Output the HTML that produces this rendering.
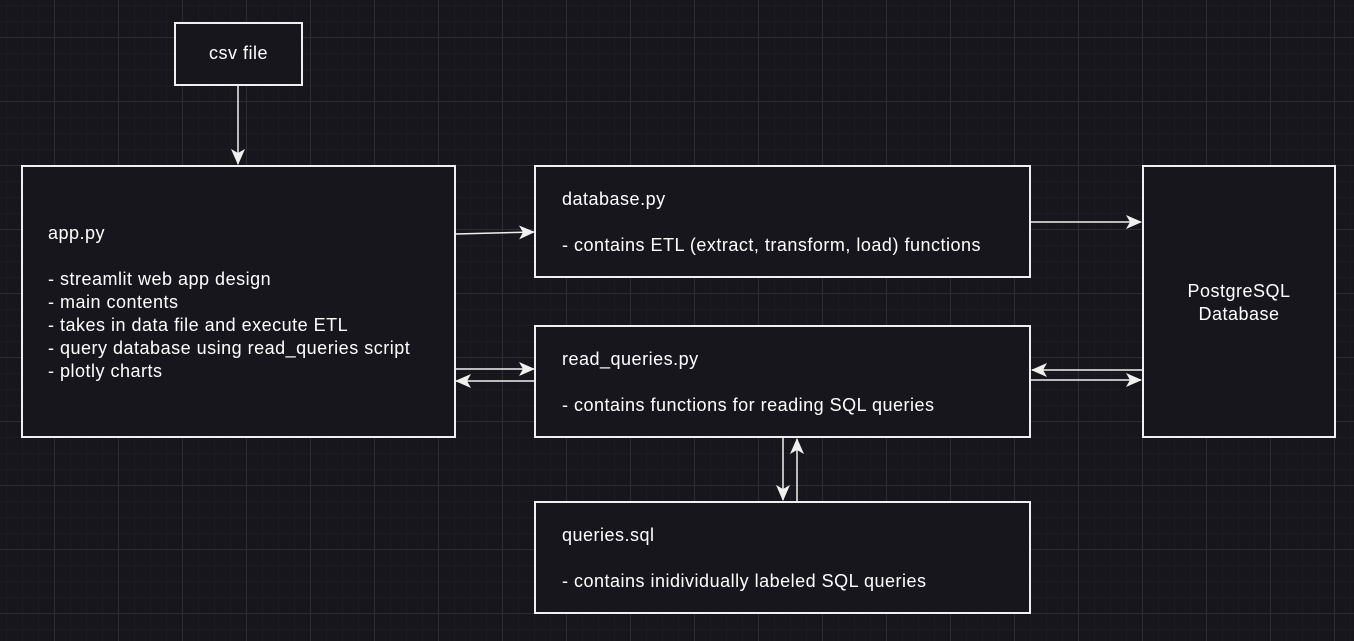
<!DOCTYPE html>
<html><head><style>
body{margin:0;width:1354px;height:641px;overflow:hidden;background:#18161d;
background-image:
linear-gradient(#2e2c33 1px,transparent 1px),
linear-gradient(90deg,#2e2c33 1px,transparent 1px),
linear-gradient(#1e1c23 1px,transparent 1px),
linear-gradient(90deg,#1e1c23 1px,transparent 1px);
background-size:64px 64px,64px 64px,16px 16px,16px 16px;
background-position:0 37px,54px 0,0 5px,6px 0;
font-family:"Liberation Sans",Arial,sans-serif;color:#fff;font-size:18px;letter-spacing:0.5px}
.b{position:absolute;border:2px solid #f0f0f0;background:#18161d;box-sizing:border-box}
.t{position:absolute;white-space:pre;line-height:23px}
svg{position:absolute;left:0;top:0}
</style></head><body>
<div class="b" style="left:174px;top:22px;width:129px;height:64px"></div>
<div class="b" style="left:21px;top:165px;width:435px;height:273px"></div>
<div class="b" style="left:534px;top:165px;width:497px;height:113px"></div>
<div class="b" style="left:534px;top:325px;width:497px;height:113px"></div>
<div class="b" style="left:534px;top:501px;width:497px;height:113px"></div>
<div class="b" style="left:1142px;top:165px;width:194px;height:273px"></div>
<div class="t" style="left:174px;top:42px;width:129px;text-align:center">csv file</div>
<div class="t" style="left:48px;top:222px">app.py

- streamlit web app design
- main contents
- takes in data file and execute ETL
- query database using read_queries script
- plotly charts</div>
<div class="t" style="left:562px;top:188px">database.py

- contains ETL (extract, transform, load) functions</div>
<div class="t" style="left:562px;top:348px">read_queries.py

- contains functions for reading SQL queries</div>
<div class="t" style="left:562px;top:524px">queries.sql

- contains inidividually labeled SQL queries</div>
<div class="t" style="left:1142px;top:280px;width:194px;text-align:center">PostgreSQL
Database</div>
<svg width="1354" height="641">
<defs><marker id="a" markerWidth="16" markerHeight="14" refX="15" refY="7" orient="auto" markerUnits="userSpaceOnUse"><path d="M0,0 L16,7 L0,14 L4,7z" fill="#f0f0f0"/></marker></defs>
<g stroke="#f0f0f0" stroke-width="1.5" fill="none" marker-end="url(#a)">
<line x1="238" y1="86" x2="238" y2="164"/>
<line x1="456" y1="234" x2="534" y2="232"/>
<line x1="456" y1="369" x2="534" y2="369"/>
<line x1="534" y1="381" x2="456" y2="381"/>
<line x1="1031" y1="222" x2="1141" y2="222"/>
<line x1="1142" y1="370" x2="1032" y2="370"/>
<line x1="1031" y1="380" x2="1141" y2="380"/>
<line x1="783" y1="438" x2="783" y2="500"/>
<line x1="797" y1="501" x2="797" y2="439"/>
</g>
</svg>
</body></html>
